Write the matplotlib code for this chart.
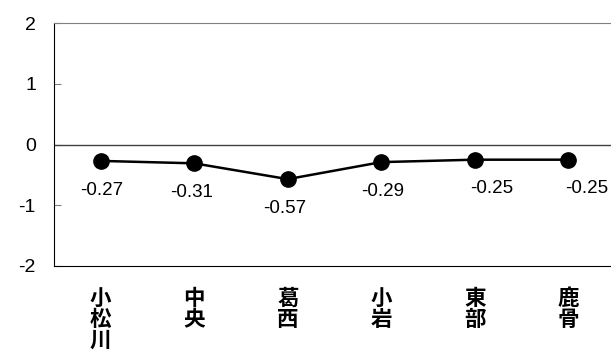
import matplotlib
matplotlib.use('Agg')
import matplotlib.pyplot as plt
import numpy as np

plt.rcParams['font.family'] = ['Liberation Sans', 'DejaVu Sans']

stations = ['小松川', '中央', '葛西', '小岩', '東部', '鹿骨']
values = [-0.27, -0.31, -0.57, -0.29, -0.25, -0.25]
yticks = [-2, -1, 0, 1, 2]
# small horizontal nudges of the value labels (points)
label_dx = [1, -2, -2, 1, 12, 13]

fig = plt.figure(figsize=(6.11, 3.56), dpi=100)
ax = fig.add_axes([54/611, 1-266/356, 561/611, 243/356])

x = np.arange(len(values)) + 0.5
ax.plot(x, values, 'o-', color='black', linewidth=1.8, markersize=11)
for xi, v, dx in zip(x, values, label_dx):
    ax.annotate(f'{v:.2f}', (xi, v), xytext=(dx, -21), textcoords='offset points',
                ha='center', va='center', fontsize=13.5)

ax.axhline(0, color='#404040', linewidth=1)
ax.set_xlim(0, len(values))
ax.set_ylim(-2, 2)
ax.set_yticks(yticks)
ax.set_yticklabels([str(t) for t in yticks], fontsize=14)
ax.tick_params(axis='y', direction='in', length=5, color='#808080', pad=13)
ax.set_xticks(x)
ax.set_xticklabels(['\n'.join(s) for s in stations], fontsize=15.5, fontweight='bold',
                   family=['Noto Sans CJK JP'], va='top', linespacing=1.0)
ax.tick_params(axis='x', length=0, pad=16)

ax.spines['top'].set_color('#808080')
ax.spines['right'].set_visible(False)
ax.spines['left'].set_color('black')
ax.spines['bottom'].set_color('black')

fig.savefig('out.png', dpi=100)
